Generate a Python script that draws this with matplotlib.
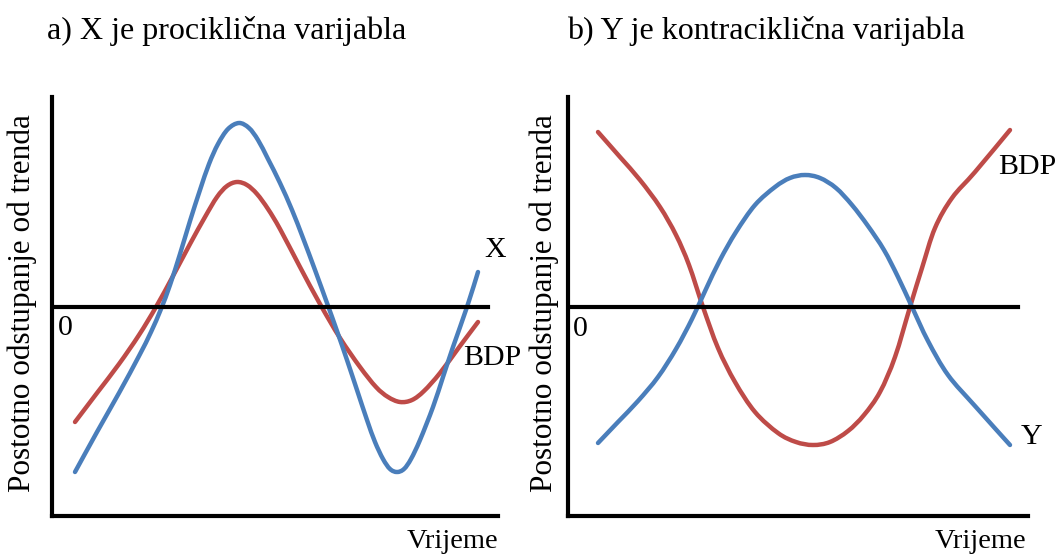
import matplotlib.pyplot as plt
from matplotlib.path import Path
from matplotlib.patches import PathPatch

plt.rcParams['font.family'] = ['Liberation Serif', 'DejaVu Serif']

BLUE = '#4a7ebb'
RED = '#be4b48'

# a) procyclical: time vs. deviation from trend (read off the picture)
x_a_time = [23, 45, 67, 87, 99, 109, 118, 128, 138, 148, 157, 166, 176, 187, 197, 206,
            216, 228, 240, 251, 263, 275, 285, 295, 305, 315, 323, 331, 338, 345, 352,
            359, 368, 381, 391, 401, 415, 426]
x_a_dev = [-165, -125, -86, -49, -25, -2, 22, 53, 86, 117, 143, 163, 178, 184, 179, 167,
           148, 124, 97, 69, 37, 4, -24, -53, -83, -113, -135, -152, -162, -165, -162,
           -152, -133, -100, -70, -40, 0, 35]

gdp_a_time = [23, 45, 67, 87, 104, 121, 138, 153, 165, 175, 185, 195, 205, 216, 228,
              248, 268, 288, 308, 324, 336, 348, 360, 372, 388, 408, 426]
gdp_a_dev = [-115, -86, -57, -28, 0, 31, 63, 90, 110, 121, 125, 122, 113, 98, 78,
             40, 3, -31, -60, -80, -90, -95, -93, -84, -66, -39, -15]

# b) countercyclical
y_b_time = [30, 50, 70, 90, 108, 124, 138, 152, 168, 187, 207, 222, 237, 252, 268,
            284, 300, 316, 330, 344, 360, 380, 407, 442]
y_b_dev = [-136, -115, -94, -70, -42, -12, 18, 47, 75, 102, 120, 129, 132, 129, 119,
           102, 81, 57, 30, 0, -34, -68, -99, -138]

gdp_b_time = [30, 52, 72, 92, 108, 121, 135, 150, 167, 187, 210, 228, 245, 262, 280,
              296, 312, 327, 342, 354, 367, 384, 407, 442]
gdp_b_dev = [175, 150, 127, 100, 72, 42, 0, -41, -75, -105, -126, -135, -138, -135, -124,
             -108, -85, -50, 0, 39, 79, 109, 135, 177]

W, H = 1062, 555
fig = plt.figure(figsize=(W / 100, H / 100), dpi=100)


def smooth_path(t, d):
    # Catmull-Rom through the read points, handed to matplotlib as cubic Beziers
    pts = list(zip(t, d))
    verts = [pts[0]]
    codes = [Path.MOVETO]
    n = len(pts)
    for i in range(n - 1):
        p0 = pts[max(i - 1, 0)]
        p1 = pts[i]
        p2 = pts[i + 1]
        p3 = pts[min(i + 2, n - 1)]
        c1 = (p1[0] + (p2[0] - p0[0]) / 6, p1[1] + (p2[1] - p0[1]) / 6)
        c2 = (p2[0] - (p3[0] - p1[0]) / 6, p2[1] - (p3[1] - p1[1]) / 6)
        verts += [c1, c2, p2]
        codes += [Path.CURVE4] * 3
    return Path(verts, codes)


def panel(left, right, curves, labels):
    ax = fig.add_axes([left / W, (H - 516) / H, (right - left) / W, (516 - 97) / H])
    ax.set_xlim(0, right - left)
    ax.set_ylim(-209, 210)
    for s in ['top', 'right']:
        ax.spines[s].set_visible(False)
    for s in ['left', 'bottom']:
        ax.spines[s].set_linewidth(3.0)
        ax.spines[s].set_color('black')
    ax.set_xticks([])
    ax.set_yticks([])
    ax.patch.set_alpha(0)
    for t, d, c in curves:
        ax.add_patch(PathPatch(smooth_path(t, d), facecolor='none', edgecolor=c, lw=3.2,
                               capstyle='round', joinstyle='round'))
    ax.axhline(0, xmin=0, xmax=0.978, color='black', lw=3.0, zorder=5)
    for txt, tx, ty in labels:
        ax.text(tx, ty, txt, fontsize=21.5, ha='center', va='center')
    return ax


panel(52, 498,
      [(gdp_a_time, gdp_a_dev, RED), (x_a_time, x_a_dev, BLUE)],
      [('0', 13, -21), ('X', 443, 57), ('BDP', 440, -51)])
panel(568, 1028,
      [(gdp_b_time, gdp_b_dev, RED), (y_b_time, y_b_dev, BLUE)],
      [('0', 12, -22), ('BDP', 459, 140), ('Y', 464, -130)])

fig.text(47 / W, 1 - 39 / H, 'a) X je prociklična varijabla', fontsize=23, va='baseline')
fig.text(567 / W, 1 - 39 / H, 'b) Y je kontraciklična varijabla', fontsize=23, va='baseline')

for cx in (22, 544):
    fig.text(cx / W, 1 - 303 / H, 'Postotno odstupanje od trenda', fontsize=22.5,
             rotation=90, ha='center', va='center')
for rx in (498, 1026):
    fig.text(rx / W, 1 - 548 / H, 'Vrijeme', fontsize=20.5, ha='right', va='baseline')

fig.savefig('out.png', dpi=100)
